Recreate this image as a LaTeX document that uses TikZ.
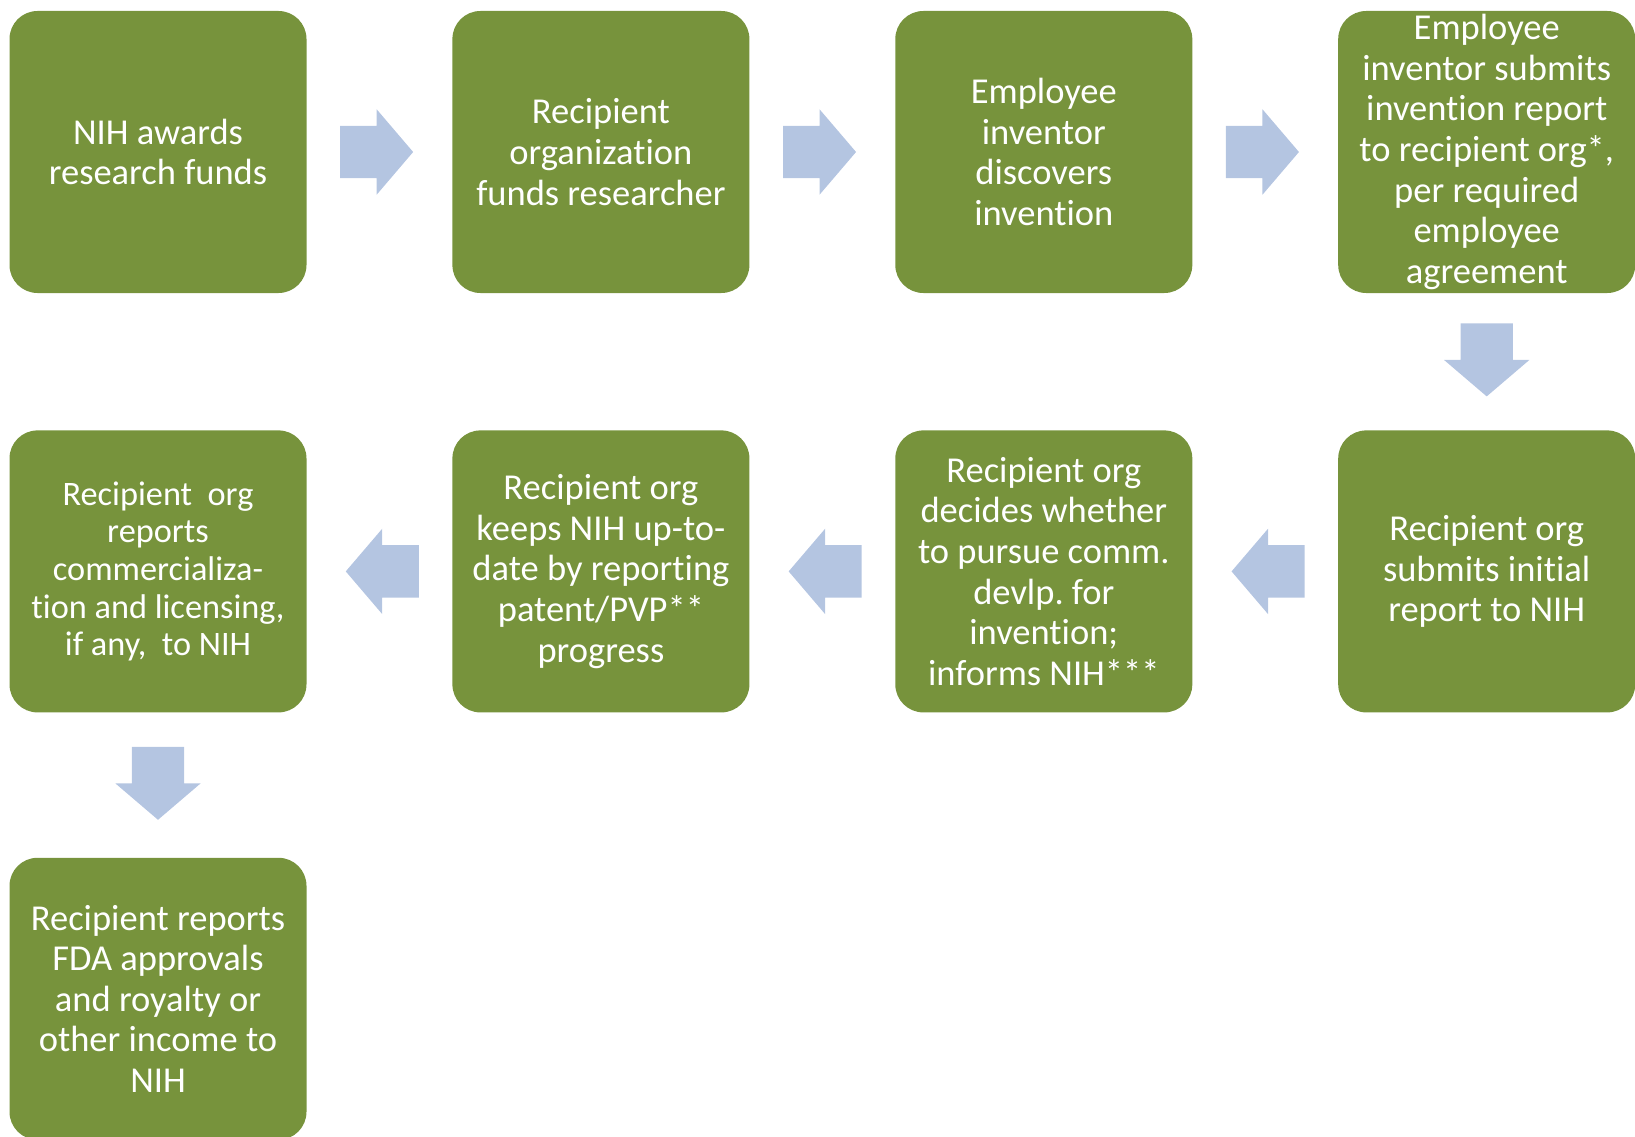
\documentclass[tikz,border=0pt]{standalone}
\usepackage{fontspec}
\setmainfont{Carlito}[Ligatures=NoCommon]
\usepackage{xcolor}
\usepackage{tikz}
\usetikzlibrary{shapes.arrows,positioning,calc}
\frenchspacing

\definecolor{boxgreen}{HTML}{77933C}
\definecolor{arrowblue}{HTML}{B4C5E1}

\begin{document}
\begin{tikzpicture}[
    x=1pt, y=1pt,
    node distance=145.5pt,
    box/.style={rectangle, rounded corners=28pt, fill=boxgreen, text=white, minimum width=297pt, minimum height=282pt, inner sep=0pt, align=center, font=\fontsize{36.5}{40.6}\selectfont},
    blockarrow/.style={single arrow, fill=arrowblue, draw=none, minimum height=73pt, minimum width=85pt, single arrow head extend=16.5pt, single arrow tip angle=99},
    rarrow/.style={blockarrow, inner xsep=0pt, inner ysep=26pt},
    larrow/.style={blockarrow, inner xsep=0pt, inner ysep=26pt, shape border rotate=180},
    darrow/.style={blockarrow, inner xsep=26pt, inner ysep=0pt, shape border rotate=270}
]
\useasboundingbox (0,0) rectangle (1635,-1137);

% Top row
\node[box] (award) at (158,-152) {NIH awards\\research funds};
\node[box, right=of award] (fund) {Recipient\\organization\\funds researcher};
\node[box, right=of fund] (discover) {Employee\\inventor\\discovers\\invention};
\node[box, right=of discover] (submit) {Employee\\inventor submits\\invention report\\to recipient org*,\\per required\\employee\\agreement};

% Middle row, right to left
\node[box, below=137pt of submit] (initial) {Recipient org\\submits initial\\report to NIH};
\node[box, left=of initial] (decide) {Recipient org\\decides whether\\to pursue comm.\\devlp. for\\invention;\\informs NIH***};
\node[box, left=of decide] (keep) {Recipient org\\keeps NIH up-to-\\date by reporting\\patent/PVP**\\progress};
\node[box, left=of keep, font=\fontsize{34.3}{37.7}\selectfont] (commerce) {Recipient~ org\\reports\\commercializa-\\tion and licensing,\\if any,~ to NIH};

% Bottom row
\node[box, below=145pt of commerce] (income) {Recipient reports\\FDA approvals\\and royalty or\\other income to\\NIH};

% Block arrows
\node[rarrow, xshift=-14pt] (a1) at ($(award.east)!0.5!(fund.west)$) {};
\node[rarrow, xshift=-14pt] (a2) at ($(fund.east)!0.5!(discover.west)$) {};
\node[rarrow, xshift=-14pt] (a3) at ($(discover.east)!0.5!(submit.west)$) {};
\node[darrow, yshift=13pt] (a4) at ($(submit.south)!0.5!(initial.north)$) {};
\node[larrow, xshift=14pt] (a5) at ($(initial.west)!0.5!(decide.east)$) {};
\node[larrow, xshift=14pt] (a6) at ($(decide.west)!0.5!(keep.east)$) {};
\node[larrow, xshift=14pt] (a7) at ($(keep.west)!0.5!(commerce.east)$) {};
\node[darrow, yshift=13pt] (a8) at ($(commerce.south)!0.5!(income.north)$) {};

\end{tikzpicture}
\end{document}
